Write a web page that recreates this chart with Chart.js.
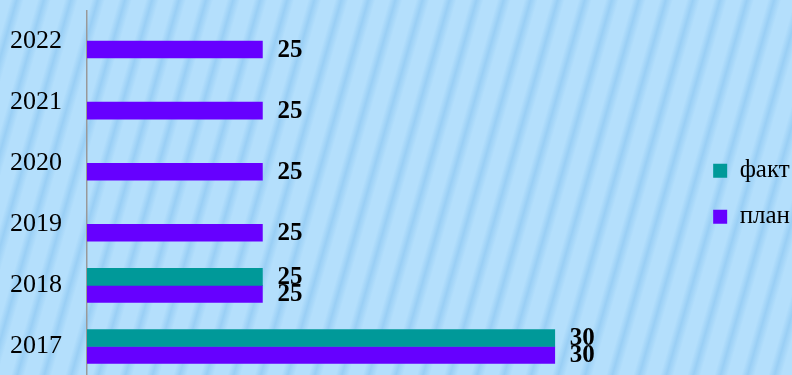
<!DOCTYPE html>
<html>
<head>
<meta charset="utf-8">
<script src="https://cdn.jsdelivr.net/npm/chart.js@4/dist/chart.umd.min.js"></script>
<style>
  html, body {
    margin: 0;
    padding: 0;
    width: 792px;
    height: 375px;
    overflow: hidden;
    background-color: #b2defc;
    background-image: repeating-linear-gradient(106deg,
      #b4dffc 0px, #b4dffc 10px, #9acff5 16px, #b4dffc 23px, #b4dffc 26px);
  }
  #wrap { position: absolute; left: 0; top: 0; width: 792px; height: 380px; }
</style>
</head>
<body>
<div id="wrap"><canvas id="chart"></canvas></div>
<script>
// categories top to bottom, as on the picture
const years = ['2022', '2021', '2020', '2019', '2018', '2017'];
const fact = [null, null, null, null, 25, 30];
const plan = [25, 25, 25, 25, 25, 30];

const serif = '"Liberation Serif", "Times New Roman", serif';

// value labels to the right of each bar
const valueLabels = {
    id: 'valueLabels',
    afterDatasetsDraw(chart) {
        const ctx = chart.ctx;
        ctx.save();
        ctx.font = 'bold 25px ' + serif;
        ctx.fillStyle = '#000';
        ctx.textAlign = 'left';
        ctx.textBaseline = 'middle';
        chart.data.datasets.forEach((ds, di) => {
            const meta = chart.getDatasetMeta(di);
            meta.data.forEach((bar, i) => {
                const v = ds.data[i];
                if (v === null || v === undefined) return;
                ctx.fillText(String(v), bar.x + 15, bar.y + 1);
            });
        });
        ctx.restore();
    }
};

new Chart(document.getElementById('chart'), {
    type: 'bar',
    data: {
        labels: years,
        datasets: [{
            label: 'факт',
            data: fact,
            backgroundColor: '#009999',
            borderWidth: 0,
            barThickness: 17
        }, {
            label: 'план',
            data: plan,
            backgroundColor: '#6600ff',
            borderWidth: 0,
            barThickness: 17
        }]
    },
    options: {
        indexAxis: 'y',
        responsive: true,
        maintainAspectRatio: false,
        animation: false,
        layout: { padding: { top: 10.5, bottom: 3, left: 0, right: -8 } },
        scales: {
            x: {
                display: false,
                min: 22,
                max: 32.35
            },
            y: {
                grid: { display: false, drawTicks: false },
                border: { display: true, color: '#999999', width: 1.5 },
                ticks: {
                    color: '#000',
                    padding: 25,
                    font: { family: serif, size: 26 }
                },
                afterFit(scale) {
                    scale.width = 87;
                    scale.paddingTop = 0;
                    scale.paddingBottom = 0;
                }
            }
        },
        plugins: {
            legend: {
                position: 'right',
                labels: {
                    color: '#000',
                    boxWidth: 14,
                    boxHeight: 14,
                    padding: 21,
                    font: { family: serif, size: 25 }
                }
            },
            tooltip: { enabled: false }
        }
    },
    plugins: [valueLabels]
});
</script>
</body>
</html>
